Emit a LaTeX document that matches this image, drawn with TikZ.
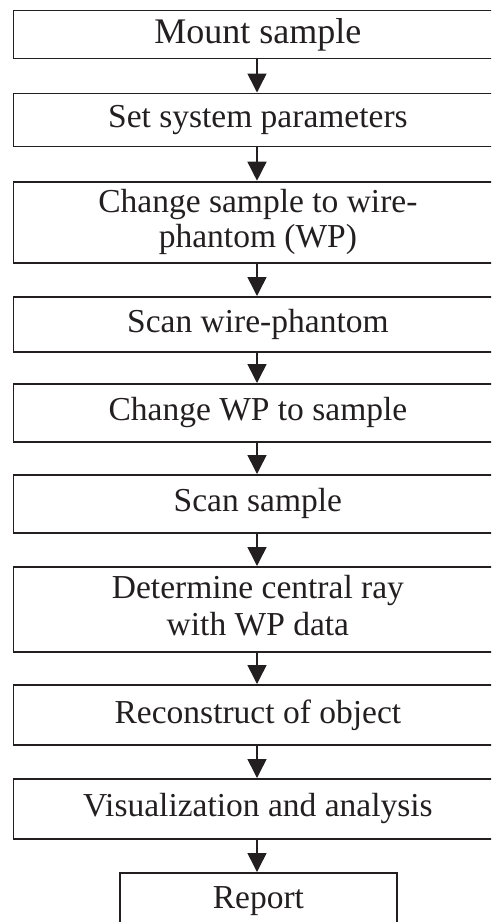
\documentclass[tikz,border=0pt]{standalone}
\usepackage{fontspec}
\setmainfont{Liberation Serif}
\usetikzlibrary{arrows.meta}
\definecolor{ink}{HTML}{231F20}
\begin{document}
\begin{tikzpicture}[x=1pt,y=-1pt,
  stepbox/.style={draw=ink, line width=1.8pt, text=ink, anchor=north west,
    minimum width=530pt, inner sep=0pt, align=center,
    font=\fontsize{33.5}{38}\selectfont},
  flow/.style={draw=ink, line width=1.5pt, -{Triangle[length=19pt,width=19pt]}}]
\useasboundingbox (0,0) rectangle (491,922);
\clip (0,0) rectangle (491,922);
\coordinate (axis) at (257,0);
\node[stepbox, minimum height=48pt, font=\fontsize{36}{40}\selectfont] (b1) at (12.5,9.5) {\hspace*{-41pt}Mount sample};
\node[stepbox, minimum height=53pt] (b2) at (12.5,92.5) {\hspace*{-41pt}Set system parameters};
\node[stepbox, minimum height=81pt] (b3) at (12.5,180.7) {\hspace*{-41pt}\begin{tabular}{@{}c@{}}Change sample to wire-\\[-3pt]phantom (WP)\end{tabular}};
\node[stepbox, minimum height=55pt] (b4) at (12.5,296) {\hspace*{-41pt}Scan wire-phantom};
\node[stepbox, minimum height=58pt] (b5) at (12.5,383) {\hspace*{-41pt}Change WP to sample};
\node[stepbox, minimum height=58pt] (b6) at (12.5,474) {\hspace*{-41pt}Scan sample};
\node[stepbox, minimum height=85pt] (b7) at (12.5,566) {\hspace*{-41pt}\begin{tabular}{@{}c@{}}Determine central ray\\[-1pt]with WP data\end{tabular}};
\node[stepbox, minimum height=60pt] (b8) at (12.5,684) {\hspace*{-41pt}Reconstruct of object};
\node[stepbox, minimum height=60pt] (b9) at (12.5,778) {\hspace*{-41pt}Visualization and analysis};
\node[stepbox, minimum width=277pt, minimum height=64pt, text depth=0pt] (b10) at (119,872) {\raisebox{14pt}{Report}};
\draw[flow] (b1.south -| axis) -- (b2.north -| axis);
\draw[flow] (b2.south -| axis) -- (b3.north -| axis);
\draw[flow] (b3.south -| axis) -- (b4.north -| axis);
\draw[flow] (b4.south -| axis) -- (b5.north -| axis);
\draw[flow] (b5.south -| axis) -- (b6.north -| axis);
\draw[flow] (b6.south -| axis) -- (b7.north -| axis);
\draw[flow] (b7.south -| axis) -- (b8.north -| axis);
\draw[flow] (b8.south -| axis) -- (b9.north -| axis);
\draw[flow] (b9.south -| axis) -- (b10.north -| axis);
\end{tikzpicture}
\end{document}
